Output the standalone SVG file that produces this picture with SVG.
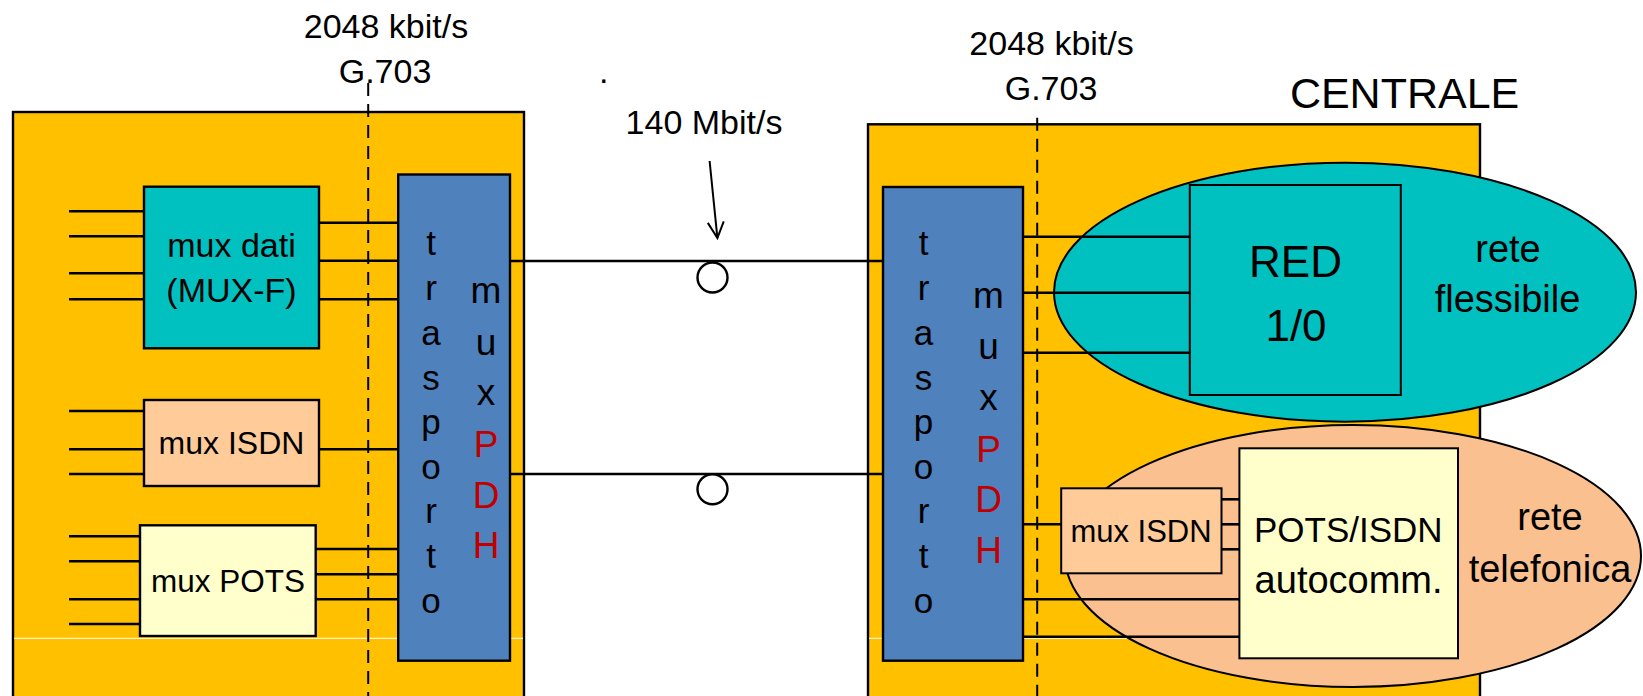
<svg xmlns="http://www.w3.org/2000/svg" width="1643" height="696" viewBox="0 0 1643 696">
<style>
text{font-family:"Liberation Sans",Arial,sans-serif;fill:#000}
.c{text-anchor:middle}
.box{stroke:#000;stroke-width:2.4}
.yel{fill:#FFC000}
.blu{fill:#4F81BD}
.tea{fill:#00C0C0}
.pch{fill:#FFCC99}
.pot{fill:#FFFFCC}
.ln{stroke:#000;stroke-width:2.6;fill:none}
.dash{stroke:#000;stroke-width:2;stroke-dasharray:13 8;fill:none}
.red{fill:#C00000}
.t34{font-size:34px}
.t35{font-size:35px}
.t37{font-size:37px}
</style>
<defs>
<marker id="arr" viewBox="0 0 20 20" refX="18" refY="10" markerWidth="20" markerHeight="20" markerUnits="userSpaceOnUse" orient="auto">
<path d="M2,2 L18,10 L2,18" fill="none" stroke="#000" stroke-width="2"/>
</marker>
</defs>
<rect width="1643" height="696" fill="#fff"/>

<g id="left-site">
<rect class="box yel" x="13" y="112" width="511" height="600"/>
<line x1="14" y1="638.3" x2="523" y2="638.3" stroke="#fff" stroke-width="1"/>
</g>
<g id="right-site">
<rect class="box yel" x="868" y="124.3" width="612" height="600"/>
<line x1="869" y1="638.3" x2="1129" y2="638.3" stroke="#fff" stroke-width="1"/>
</g>

<g id="rete-flessibile">
<ellipse cx="1345" cy="292.2" rx="291" ry="129.5" fill="#00C0C0" stroke="#000" stroke-width="2"/>
<text class="c" x="1508" y="261.7" style="font-size:38px">rete</text>
<text class="c" x="1507.5" y="311.7" style="font-size:38px">flessibile</text>
</g>
<g id="rete-telefonica">
<ellipse cx="1353" cy="556" rx="288" ry="131" fill="#FAC090" stroke="#000" stroke-width="2"/>
<text class="c" x="1550" y="530" style="font-size:38px">rete</text>
<text class="c" x="1550" y="581.7" style="font-size:38px">telefonica</text>
</g>

<g id="dashed-lines">
<line class="dash" x1="368.2" y1="83" x2="368.2" y2="696"/>
<line class="dash" x1="1037.2" y1="117.7" x2="1037.2" y2="696"/>
</g>

<g id="labels">
<text class="c t34" x="386" y="38.3">2048 kbit/s</text>
<text class="c t34" x="385" y="82.7">G.703</text>
<text class="c t34" x="1051.6" y="55">2048 kbit/s</text>
<text class="c t34" x="1051" y="100">G.703</text>
<text class="c t34" x="704" y="134.3">140 Mbit/s</text>
<text class="t34" x="599" y="82.5">.</text>
<text class="c" x="1404.6" y="108.3" style="font-size:43px">CENTRALE</text>
</g>

<g id="connectors">
<line class="ln" x1="69" y1="211.3" x2="144" y2="211.3"/>
<line class="ln" x1="69" y1="236.3" x2="144" y2="236.3"/>
<line class="ln" x1="69" y1="273.3" x2="144" y2="273.3"/>
<line class="ln" x1="69" y1="299.3" x2="144" y2="299.3"/>
<line class="ln" x1="319" y1="222.7" x2="398" y2="222.7"/>
<line class="ln" x1="319" y1="260.7" x2="398" y2="260.7"/>
<line class="ln" x1="319" y1="299.3" x2="398" y2="299.3"/>
<line class="ln" x1="69" y1="411" x2="144" y2="411"/>
<line class="ln" x1="69" y1="449.3" x2="144" y2="449.3"/>
<line class="ln" x1="69" y1="474" x2="144" y2="474"/>
<line class="ln" x1="319" y1="449.3" x2="398" y2="449.3"/>
<line class="ln" x1="69" y1="536.3" x2="140" y2="536.3"/>
<line class="ln" x1="69" y1="561.3" x2="140" y2="561.3"/>
<line class="ln" x1="69" y1="599.3" x2="140" y2="599.3"/>
<line class="ln" x1="69" y1="624" x2="140" y2="624"/>
<line class="ln" x1="315.7" y1="549" x2="398" y2="549"/>
<line class="ln" x1="315.7" y1="574.3" x2="398" y2="574.3"/>
<line class="ln" x1="315.7" y1="599.3" x2="398" y2="599.3"/>
<line class="ln" x1="510" y1="261" x2="883" y2="261"/>
<line class="ln" x1="510" y1="474" x2="883" y2="474"/>
<circle cx="712.5" cy="277.5" r="15" fill="#fff" stroke="#000" stroke-width="2.4"/>
<circle cx="712.5" cy="489.3" r="15" fill="#fff" stroke="#000" stroke-width="2.4"/>
<line x1="709.6" y1="161" x2="717.4" y2="238" stroke="#000" stroke-width="2" marker-end="url(#arr)"/>
<line class="ln" x1="1023" y1="236.7" x2="1190" y2="236.7"/>
<line class="ln" x1="1023" y1="292.7" x2="1190" y2="292.7"/>
<line class="ln" x1="1023" y1="352.7" x2="1190" y2="352.7"/>
<line class="ln" x1="1023" y1="524.3" x2="1061" y2="524.3"/>
<line class="ln" x1="1221.5" y1="499.3" x2="1239.4" y2="499.3"/>
<line class="ln" x1="1221.5" y1="524.3" x2="1239.4" y2="524.3"/>
<line class="ln" x1="1221.5" y1="549.3" x2="1239.4" y2="549.3"/>
<line class="ln" x1="1023" y1="599.3" x2="1239.4" y2="599.3"/>
<line class="ln" x1="1023" y1="636.7" x2="1239.4" y2="636.7"/>
</g>

<g id="mux-dati">
<rect class="box tea" x="144" y="186.7" width="175" height="161.6"/>
<text class="c t34" x="231.5" y="257">mux dati</text>
<text class="c t34" x="231.5" y="302">(MUX-F)</text>
</g>
<g id="mux-isdn-left">
<rect class="box pch" x="144" y="400" width="175" height="86"/>
<text class="c" x="231.5" y="454.3" style="font-size:32px">mux ISDN</text>
</g>
<g id="mux-pots">
<rect class="box pot" x="140" y="525.3" width="175.7" height="110.7"/>
<text class="c" x="228" y="591.7" style="font-size:31.5px">mux POTS</text>
</g>

<g id="trasporto-left">
<rect class="box blu" x="398.2" y="174.5" width="111.8" height="486.2"/>
<g class="c t35">
<text x="431" y="255">t</text>
<text x="431" y="299.5">r</text>
<text x="431" y="344.5">a</text>
<text x="431" y="390">s</text>
<text x="431" y="434">p</text>
<text x="431" y="478.5">o</text>
<text x="431" y="523">r</text>
<text x="431" y="568">t</text>
<text x="431" y="613">o</text>
</g>
<g class="c t37">
<text x="486" y="303.3">m</text>
<text x="486" y="354.5">u</text>
<text x="486" y="405">x</text>
<text class="red" x="486" y="457">P</text>
<text class="red" x="486" y="508">D</text>
<text class="red" x="486" y="558.3">H</text>
</g>
</g>

<g id="trasporto-right">
<rect class="box blu" x="883" y="187" width="140" height="473.7"/>
<g class="c t35">
<text x="923.5" y="255">t</text>
<text x="923.5" y="300">r</text>
<text x="923.5" y="345">a</text>
<text x="923.5" y="390">s</text>
<text x="923.5" y="434">p</text>
<text x="923.5" y="478.5">o</text>
<text x="923.5" y="523">r</text>
<text x="923.5" y="567.5">t</text>
<text x="923.5" y="613">o</text>
</g>
<g class="c t37">
<text x="988.5" y="308.3">m</text>
<text x="988.5" y="358.5">u</text>
<text x="988.5" y="410">x</text>
<text class="red" x="988.5" y="461.7">P</text>
<text class="red" x="988.5" y="511.7">D</text>
<text class="red" x="988.5" y="563.3">H</text>
</g>
</g>

<g id="red-1-0">
<rect class="tea" x="1189.8" y="185" width="211" height="210" stroke="#000" stroke-width="2"/>
<text class="c" x="1295.5" y="276.7" style="font-size:44px">RED</text>
<text class="c" x="1296" y="340.7" style="font-size:44px">1/0</text>
</g>

<g id="mux-isdn-right">
<rect class="pch" x="1061.2" y="488.3" width="160.3" height="85" stroke="#000" stroke-width="2"/>
<text class="c" x="1141" y="541.7" style="font-size:31px">mux ISDN</text>
</g>

<g id="pots-isdn">
<rect class="pot" x="1239.4" y="448.3" width="218.6" height="210" stroke="#000" stroke-width="2"/>
<text class="c" x="1348.3" y="541.7" style="font-size:35px">POTS/ISDN</text>
<text class="c" x="1348.6" y="593.3" style="font-size:38px">autocomm.</text>
</g>
</svg>
